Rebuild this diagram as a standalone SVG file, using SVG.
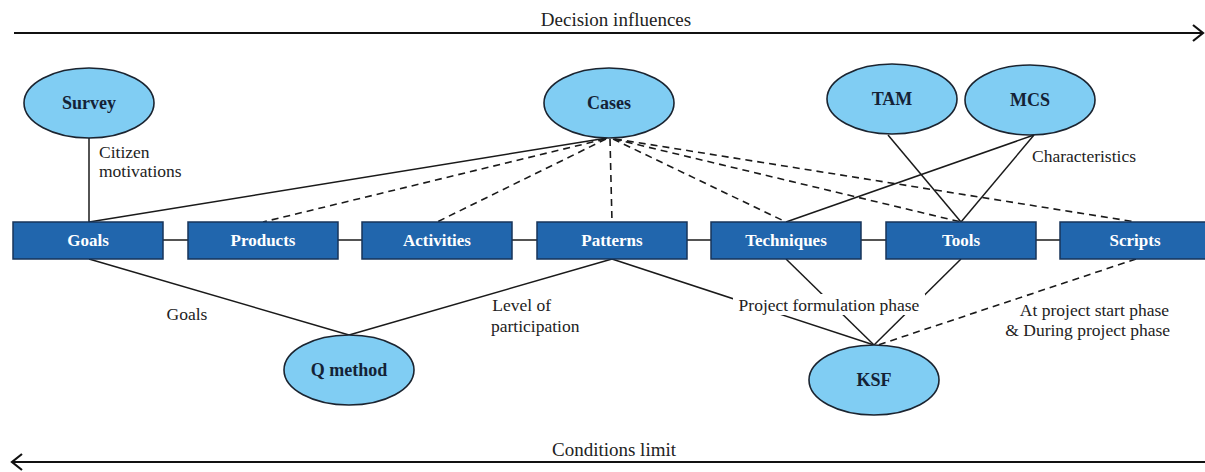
<svg xmlns="http://www.w3.org/2000/svg" width="1205" height="472" viewBox="0 0 1205 472">
<defs>
<style>
text{font-family:'Liberation Serif','Times New Roman','DejaVu Serif',serif}
.box{fill:#2166ad;stroke:#17345a;stroke-width:1.5}
.btxt{font-weight:bold;font-size:17px;fill:#ffffff;text-anchor:middle}
.ell{fill:#80cdf3;stroke:#1b2430;stroke-width:1.6}
.etxt{font-weight:bold;font-size:18px;fill:#142236;text-anchor:middle}
.lbl{font-size:17.5px;fill:#222222}
.ax-lbl{font-size:19px;fill:#222222;text-anchor:middle}
.ln{stroke:#1a1a1a;stroke-width:1.5;fill:none}
.dl{stroke:#1a1a1a;stroke-width:1.6;fill:none;stroke-dasharray:7,5}
.ax{stroke:#111111;stroke-width:2.2;fill:none}
</style>
</defs>
<rect width="1205" height="472" fill="#ffffff"/>
<g id="connectors">
<line class="ax" x1="14" y1="33" x2="1203" y2="33"/>
<polyline class="ax" points="1193,25 1203,33 1193,41"/>
<line class="ax" x1="12" y1="462" x2="1205" y2="462"/>
<polyline class="ax" points="22,454 12,462 22,470"/>
<line class="ln" x1="163" y1="240" x2="188" y2="240"/>
<line class="ln" x1="338" y1="240" x2="362" y2="240"/>
<line class="ln" x1="512" y1="240" x2="537" y2="240"/>
<line class="ln" x1="687" y1="240" x2="711" y2="240"/>
<line class="ln" x1="861" y1="240" x2="886" y2="240"/>
<line class="ln" x1="1036" y1="240" x2="1060" y2="240"/>
<line class="ln" x1="89" y1="138" x2="89" y2="222"/>
<line class="ln" x1="607" y1="138" x2="89" y2="222"/>
<line class="dl" x1="605" y1="139" x2="263" y2="222"/>
<line class="dl" x1="606" y1="139" x2="437" y2="222"/>
<line class="dl" x1="610" y1="139" x2="612" y2="222"/>
<line class="dl" x1="613" y1="139" x2="786" y2="222"/>
<line class="dl" x1="614" y1="139" x2="961" y2="222"/>
<line class="dl" x1="615" y1="139" x2="1136" y2="222"/>
<line class="ln" x1="888" y1="135" x2="961" y2="222"/>
<line class="ln" x1="1034" y1="135" x2="786" y2="222"/>
<line class="ln" x1="1034" y1="135" x2="961" y2="222"/>
<line class="ln" x1="89" y1="259" x2="349" y2="335"/>
<line class="ln" x1="612" y1="259" x2="349" y2="335"/>
<line class="ln" x1="612" y1="259" x2="874" y2="345"/>
<line class="ln" x1="786" y1="259" x2="874" y2="345"/>
<line class="ln" x1="961" y1="259" x2="874" y2="345"/>
<line class="dl" x1="1136" y1="259" x2="878" y2="345"/>
<rect x="733" y="294" width="192" height="21" fill="#ffffff"/>
</g>
<g id="labels">
<text class="ax-lbl" x="616" y="26">Decision influences</text>
<text class="ax-lbl" x="614" y="456">Conditions limit</text>
<text class="lbl" x="99" y="158">Citizen</text>
<text class="lbl" x="99" y="177">motivations</text>
<text class="lbl" x="1032" y="162">Characteristics</text>
<text class="lbl" x="187" y="320" text-anchor="middle">Goals</text>
<text class="lbl" x="551" y="311" text-anchor="end">Level of</text>
<text class="lbl" x="491" y="332">participation</text>
<text class="lbl" x="829" y="311" text-anchor="middle">Project formulation phase</text>
<text class="lbl" x="1169" y="316" text-anchor="end">At project start phase</text>
<text class="lbl" x="1170" y="336" text-anchor="end">&amp; During project phase</text>
</g>
<g id="goals"><rect class="box" x="13" y="222" width="150" height="37"/><text class="btxt" x="88" y="246">Goals</text></g>
<g id="products"><rect class="box" x="188" y="222" width="150" height="37"/><text class="btxt" x="263" y="246">Products</text></g>
<g id="activities"><rect class="box" x="362" y="222" width="150" height="37"/><text class="btxt" x="437" y="246">Activities</text></g>
<g id="patterns"><rect class="box" x="537" y="222" width="150" height="37"/><text class="btxt" x="612" y="246">Patterns</text></g>
<g id="techniques"><rect class="box" x="711" y="222" width="150" height="37"/><text class="btxt" x="786" y="246">Techniques</text></g>
<g id="tools"><rect class="box" x="886" y="222" width="150" height="37"/><text class="btxt" x="961" y="246">Tools</text></g>
<g id="scripts"><rect class="box" x="1060" y="222" width="152" height="37"/><text class="btxt" x="1135" y="246">Scripts</text></g>
<g id="survey"><ellipse class="ell" cx="89" cy="103" rx="65" ry="35"/><text class="etxt" x="89" y="109">Survey</text></g>
<g id="cases"><ellipse class="ell" cx="609" cy="103" rx="65" ry="35"/><text class="etxt" x="609" y="109">Cases</text></g>
<g id="tam"><ellipse class="ell" cx="892" cy="99" rx="65" ry="35"/><text class="etxt" x="892" y="105">TAM</text></g>
<g id="mcs"><ellipse class="ell" cx="1030" cy="100" rx="65" ry="35"/><text class="etxt" x="1030" y="106">MCS</text></g>
<g id="qmethod"><ellipse class="ell" cx="349" cy="370" rx="65" ry="35"/><text class="etxt" x="349" y="376">Q method</text></g>
<g id="ksf"><ellipse class="ell" cx="874" cy="380" rx="65" ry="35"/><text class="etxt" x="874" y="386">KSF</text></g>
</svg>
